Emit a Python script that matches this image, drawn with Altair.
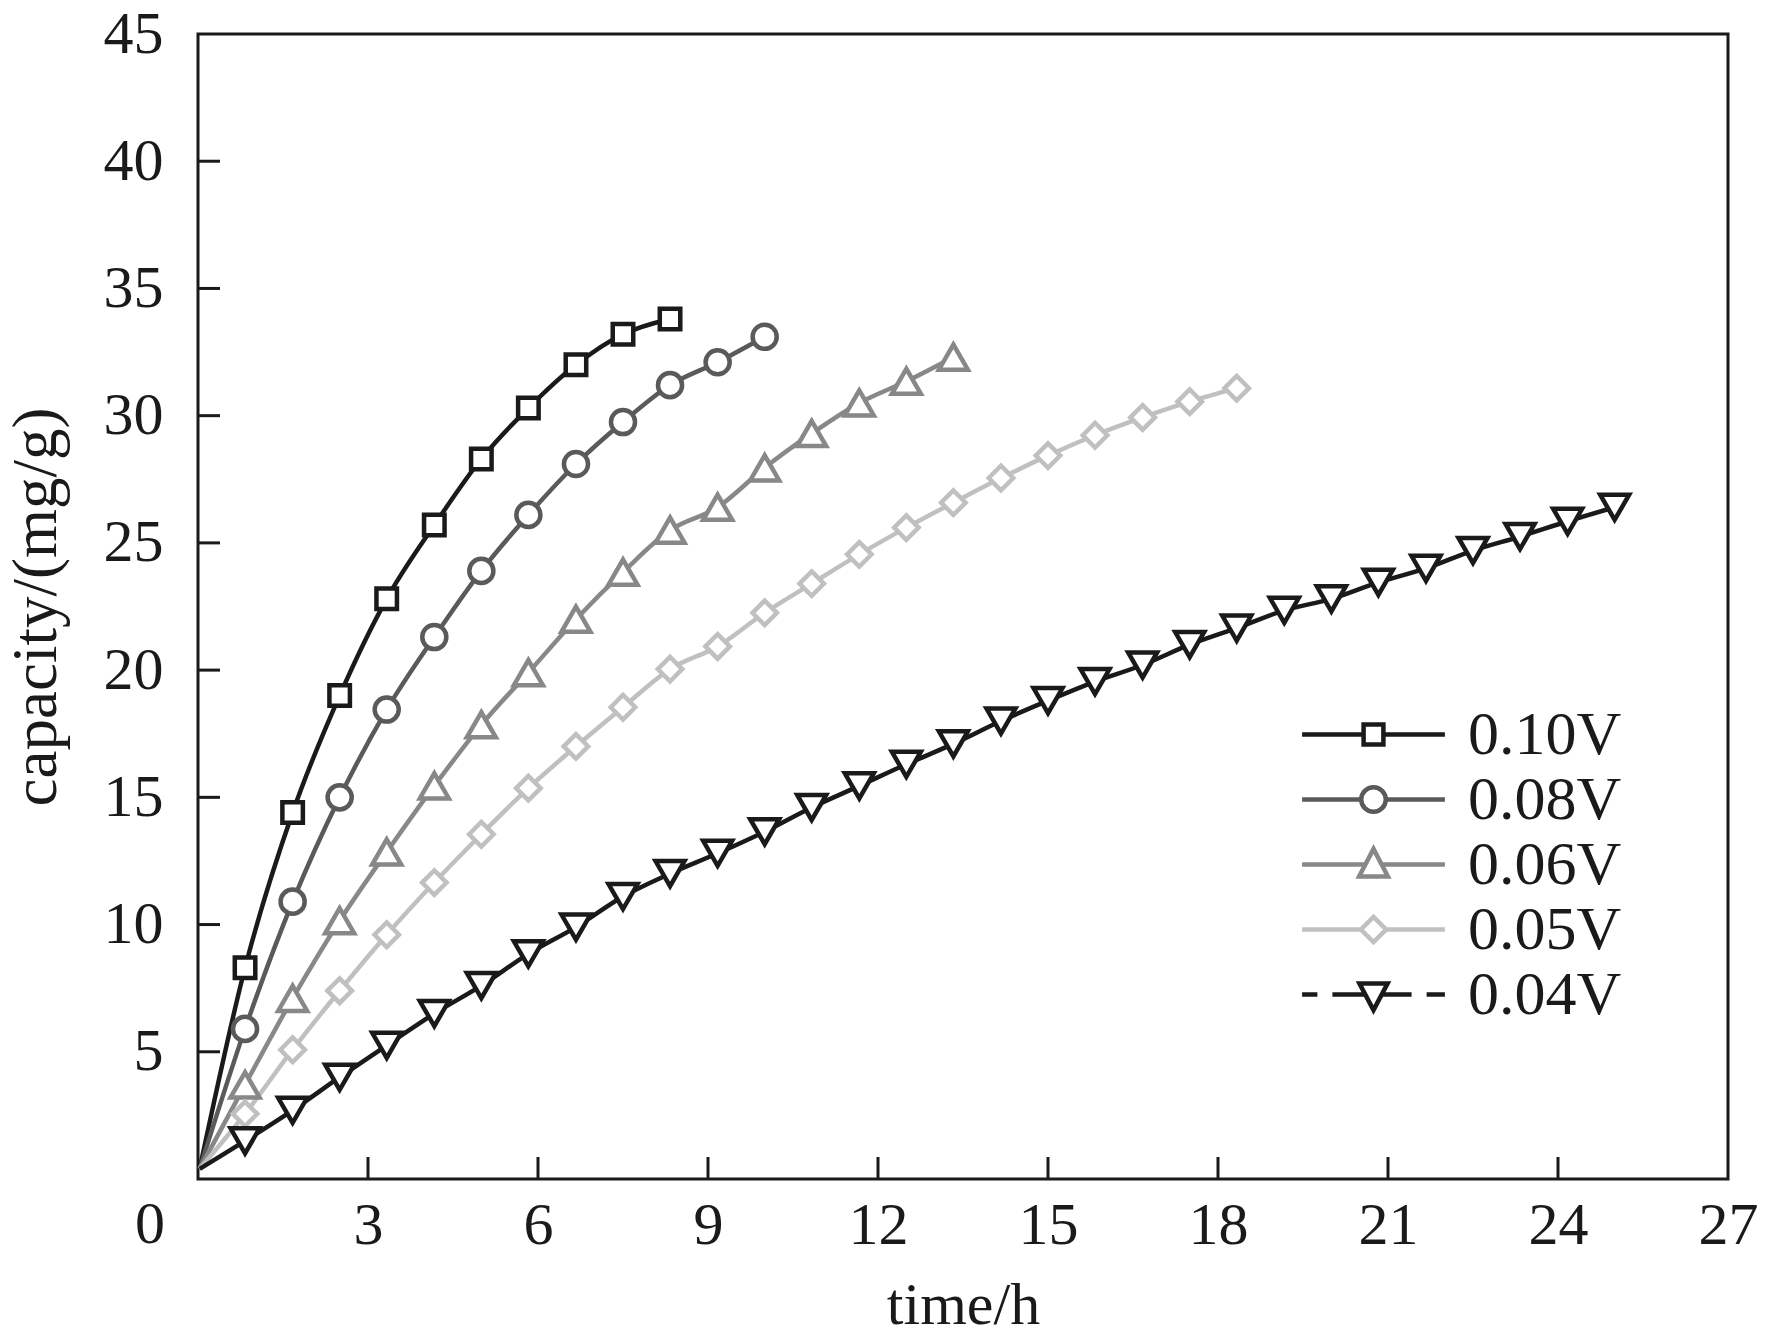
import altair as alt
import pandas as pd

# ---------------- data ----------------
series = ["0.10V", "0.08V", "0.06V", "0.05V", "0.04V"]
colors = ["#1a1a1a", "#5a5a5a", "#888888", "#c0c0c0", "#1a1a1a"]

time_h = [0.83, 1.67, 2.5, 3.33, 4.17, 5.0, 5.83, 6.67, 7.5, 8.33,
          9.17, 10.0, 10.83, 11.67, 12.5, 13.33, 14.17, 15.0, 15.83, 16.67,
          17.5, 18.33, 19.17, 20.0, 20.83, 21.67, 22.5, 23.33, 24.17, 25.0]

cap_010 = [8.3, 14.4, 19.0, 22.8, 25.7, 28.3, 30.3, 32.0, 33.2, 33.8]
cap_008 = [5.9, 10.9, 15.0, 18.45, 21.3, 23.9, 26.1, 28.1, 29.75, 31.2, 32.1, 33.1]
cap_006 = [3.7, 7.1, 10.15, 12.85, 15.45, 17.85, 19.9, 22.0, 23.85, 25.5,
           26.4, 27.95, 29.3, 30.5, 31.35, 32.3]
cap_005 = [2.56, 5.08, 7.4, 9.6, 11.65, 13.55, 15.36, 17.0, 18.54, 20.04,
           20.93, 22.25, 23.4, 24.55, 25.6, 26.58, 27.55, 28.43, 29.23, 29.93,
           30.55, 31.08]
cap_004 = [1.5, 2.7, 4.0, 5.25, 6.5, 7.6, 8.85, 9.9, 11.1, 12.0,
           12.8, 13.65, 14.6, 15.45, 16.3, 17.1, 18.0, 18.8, 19.55, 20.2,
           21.0, 21.65, 22.35, 22.8, 23.45, 24.0, 24.7, 25.25, 25.85, 26.4]

start_t = 0.03
start_c = 0.4

x_ticks = [3, 6, 9, 12, 15, 18, 21, 24]
y_ticks = [5, 10, 15, 20, 25, 30, 35, 40]
x_label_values = [0, 3, 6, 9, 12, 15, 18, 21, 24, 27]
y_label_values = [0, 5, 10, 15, 20, 25, 30, 35, 40, 45]

caps = [cap_010, cap_008, cap_006, cap_005, cap_004]
marker_shapes = ["square", "circle", "triangle-up", "diamond", "triangle-down"]
marker_sizes = [420, 580, 840, 600, 840]

# legend symbols: line + marker drawn as one custom path (unit = sqrt(size)/2)
legend_paths = [
    "M-2.38,0H-0.33M0.33,0H2.38M-0.33,-0.33H0.33V0.33H-0.33Z",
    "M-2.38,0H-0.41M0.41,0H2.38M0.41,0A0.41,0.41,0,1,1,-0.41,0A0.41,0.41,0,1,1,0.41,0Z",
    "M-2.38,0H-0.27M0.27,0H2.38M0,-0.52L0.48,0.4H-0.48Z",
    "M-2.38,0H-0.42M0.42,0H2.38M0,-0.42L0.42,0L0,0.42L-0.42,0Z",
    "M-2.38,0H-1.87M-1.37,0H-0.27M0.27,0H1.27M1.77,0H2.38M-0.47,-0.37H0.47L0,0.52Z",
]

# ---------------- tables ----------------
line_rows, pt_rows = [], []
for s, vals in zip(series, caps):
    line_rows.append({"series": s, "t": start_t, "c": start_c, "o": 0})
    for i, v in enumerate(vals):
        line_rows.append({"series": s, "t": time_h[i], "c": v, "o": i + 1})
        pt_rows.append({"series": s, "t": time_h[i], "c": v})
lines_df = pd.DataFrame(line_rows)
pts_df = pd.DataFrame(pt_rows)

W, H = 1530, 1145
FONT = "Liberation Serif"
INK = "#1a1a1a"
LW = 4.5

xs = alt.Scale(domain=[0, 27], nice=False, zero=False)
ys = alt.Scale(domain=[0, 45], nice=False, zero=False)

x_axis = alt.Axis(
    title="time/h", values=x_label_values,
    labelExpr="datum.value == 0 ? '' : datum.label",
    domain=False, ticks=False, tickSize=0, grid=False,
    labelPadding=17, labelFlush=False, labelOverlap=False,
    labelBaseline="top",
    labelFont=FONT, labelFontSize=60, labelColor=INK,
    titleFont=FONT, titleFontSize=60, titleColor=INK, titleFontWeight="normal",
    titleX=W / 2, titleY=126, titleBaseline="middle", titleAlign="center",
)
y_axis = alt.Axis(
    title="capacity/(mg/g)", values=y_label_values,
    labelExpr="datum.value == 0 ? '' : datum.label",
    domain=False, ticks=False, tickSize=0, grid=False,
    labelPadding=35, labelFlush=False, labelOverlap=False,
    labelFont=FONT, labelFontSize=60, labelColor=INK,
    titleFont=FONT, titleFontSize=63, titleColor=INK, titleFontWeight="normal",
    titleX=-162, titleY=H / 2, titleAngle=-90,
    titleBaseline="middle", titleAlign="center",
)

x_enc = alt.X("t:Q", scale=xs, axis=x_axis)
y_enc = alt.Y("c:Q", scale=ys, axis=y_axis)

# inward ticks
xt = alt.Chart(pd.DataFrame({"t": x_ticks})).mark_rule(
    color=INK, strokeWidth=3
).encode(x=x_enc, y=alt.value(H), y2=alt.value(H - 22))

yt = alt.Chart(pd.DataFrame({"c": y_ticks})).mark_rule(
    color=INK, strokeWidth=3
).encode(y=y_enc, x=alt.value(0), x2=alt.value(22))

line_layers = []
point_layers = []
for s, shp, sz, col in zip(series, marker_shapes, marker_sizes, colors):
    line_layers.append(
        alt.Chart(lines_df).transform_filter(alt.datum.series == s).mark_line(
            interpolate="monotone", strokeWidth=LW, color=col
        ).encode(x=x_enc, y=y_enc, order="o:Q")
    )
    point_layers.append(
        alt.Chart(pts_df).transform_filter(alt.datum.series == s).mark_point(
            shape=shp, size=sz, filled=True, fill="white", stroke=col,
            strokeWidth=LW, opacity=1
        ).encode(x=x_enc, y=y_enc)
    )

leg = alt.Legend(
    title=None, orient="none", legendX=1143, legendY=668, direction="vertical",
    symbolSize=3600, symbolStrokeWidth=LW, symbolOpacity=1,
    symbolFillColor="transparent",
    labelFont=FONT, labelFontSize=62, labelColor=INK,
    rowPadding=1, labelOffset=62, padding=0,
)
legend_layer = alt.Chart(pts_df).mark_point(
    filled=False, strokeWidth=LW
).encode(
    x=x_enc, y=y_enc,
    opacity=alt.value(0),
    color=alt.Color("series:N", scale=alt.Scale(domain=series, range=colors), legend=leg),
    shape=alt.Shape("series:N", scale=alt.Scale(domain=series, range=legend_paths),
                    legend=leg),
)

origin = alt.Chart(pd.DataFrame({"t": [0], "c": [0]})).mark_text(
    text="0", align="right", baseline="top", dx=-33, dy=17,
    font=FONT, fontSize=60, color=INK
).encode(x=x_enc, y=y_enc)

chart = alt.layer(
    xt, yt, *line_layers, *point_layers, legend_layer, origin
).properties(
    width=W, height=H,
    background="white",
    autosize=alt.AutoSizeParams(type="none"),
    padding={"left": 190, "top": 26, "right": 29, "bottom": 154},
).configure_view(
    stroke=INK, strokeWidth=3
)

chart.save("out.html", embed_options={"renderer": "svg", "actions": False})
